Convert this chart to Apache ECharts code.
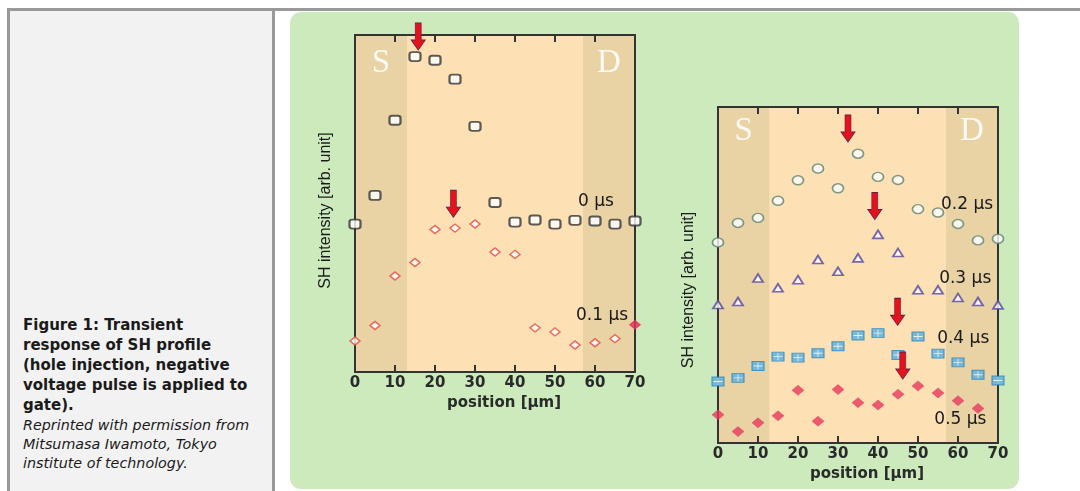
<!DOCTYPE html>
<html>
<head>
<meta charset="utf-8">
<script src="https://cdn.jsdelivr.net/npm/echarts@6/dist/echarts.min.js"></script>
<style>
  html, body { margin:0; padding:0; width:1080px; height:491px; overflow:hidden; background:#ffffff; }
  .abs { position:absolute; }
  #topline { left:7px; top:8px; width:1073px; height:3px; background:#999999; }
  #leftline { left:7px; top:8px; width:3px; height:483px; background:#999999; }
  #cell { left:10px; top:11px; width:262px; height:480px; background:#f2f2f2; }
  #divider { left:272px; top:8px; width:3px; height:483px; background:#999999; }
  #panel { left:290px; top:12px; width:729px; height:477px; background:#cdeabd; border-radius:11px; }
  #caption { left:23px; top:315px; width:245px; font-family:"DejaVu Sans", sans-serif; color:#1a1a1a; }
  #caption .b { font-weight:bold; font-size:15px; line-height:20px; white-space:nowrap; }
  #caption .i { font-style:italic; font-size:14.3px; line-height:19px; white-space:nowrap; margin-top:1px; }
  #c { left:0; top:0; width:1080px; height:491px; }
</style>
</head>
<body>
<div id="topline" class="abs"></div>
<div id="cell" class="abs"></div>
<div id="leftline" class="abs"></div>
<div id="divider" class="abs"></div>
<div id="panel" class="abs"></div>
<div id="caption" class="abs">
  <div class="b">Figure 1: Transient<br>response of SH profile<br>(hole injection, negative<br>voltage pulse is applied to<br>gate).</div>
  <div class="i">Reprinted with permission from<br>Mitsumasa Iwamoto, Tokyo<br>institute of technology.</div>
</div>
<div id="c" class="abs"></div>
<script>
// ---- data (y in arbitrary units 0..100) ----
const positions = [0, 5, 10, 15, 20, 25, 30, 35, 40, 45, 50, 55, 60, 65, 70];
const xTicks = [0, 10, 20, 30, 40, 50, 60, 70];
const sh_0us  = [43.9, 52.4, 74.7, 93.6, 92.5, 86.9, 72.9, 50.3, 44.5, 45.1, 43.9, 45.0, 44.8, 43.9, 44.8];
const sh_01us = [9.2, 13.8, 28.5, 32.5, 42.3, 42.7, 43.9, 35.6, 34.9, 13.1, 11.9, 8.0, 8.7, 9.9, 14.0];
const sh_02us = [59.7, 65.5, 67.0, 72.1, 78.2, 81.7, 75.8, 86.1, 79.2, 78.3, 69.6, 68.6, 65.2, 60.3, 60.8];
const sh_03us = [41.2, 42.1, 49.1, 46.2, 48.6, 54.6, 51.1, 55.1, 62.1, 56.7, 45.6, 45.6, 43.3, 42.1, 41.1];
const sh_04us = [18.3, 19.4, 22.9, 25.7, 25.4, 26.7, 28.8, 32.0, 32.7, 26.2, 31.7, 26.6, 24.0, 20.3, 18.6];
const sh_05us = [8.4, 3.4, 6.0, 8.1, 15.7, 6.5, 15.9, 12.0, 11.3, 14.5, 17.0, 14.9, 12.6, 10.3, null];
// source / drain regions [from, to] in µm
const regions1 = [["S", 0, 13], ["D", 57, 70]];
const regions2 = [["S", 0, 12.8], ["D", 57, 70]];
// peak arrows [x µm, y of tip]
const arrows1 = [[15.8, 95.5], [24.6, 45.9]];
const arrows2 = [[32.5, 89.6], [39.2, 66.5], [44.9, 35.0], [46.2, 19.0]];
// curve labels [text, x, y]
const curveLabels1 = [["0 µs", 60.25, 50.7], ["0.1 µs", 61.75, 16.6]];
const curveLabels2 = [["0.2 µs", 62.25, 70.9], ["0.3 µs", 61.8, 48.9], ["0.4 µs", 61.3, 31.0], ["0.5 µs", 60.6, 7.1]];
const yName = "SH intensity [arb. unit]";
const xName = "position [µm]";

// ---- build ----
const AX = '#333333';
const pts = arr => positions.map((x, i) => [x, arr[i]]).filter(p => p[1] !== null);
const arrowPath = 'path://M4,0 L10,0 L10,17 L14,17 L7,27 L0,17 L4,17 Z';

function xAxes(g) {
  const common = {
    gridIndex: g, type: 'value', min: 0, max: 70, interval: 10, z: 2,
    axisLine: { show: true, onZero: false, lineStyle: { color: AX, width: 2 } },
    axisTick: { show: true, inside: true, length: 7, lineStyle: { color: AX, width: 2 } },
    splitLine: { show: false }
  };
  return [
    Object.assign({}, common, {
      position: 'bottom',
      axisLabel: { show: true, margin: 4, fontFamily: 'DejaVu Sans', fontWeight: 'bold', fontSize: 15, color: '#2a2a2a',
                   formatter: v => xTicks.includes(v) ? String(v) : '' },
      name: xName, nameLocation: 'middle', nameGap: 17,
      nameTextStyle: { fontFamily: 'DejaVu Sans', fontWeight: 'bold', fontSize: 15, color: '#2a2a2a', padding: [0, 0, 0, 18] }
    }),
    Object.assign({}, common, { position: 'top', axisLabel: { show: false } })
  ];
}
function yAxes(g, shift) {
  const common = {
    gridIndex: g, type: 'value', min: 0, max: 100, z: 2,
    axisLine: { show: true, onZero: false, lineStyle: { color: AX, width: 2 } },
    axisTick: { show: false }, axisLabel: { show: false }, splitLine: { show: false }
  };
  return [
    Object.assign({}, common, {
      position: 'left', name: yName, nameLocation: 'middle', nameGap: 21,
      nameTextStyle: { fontFamily: 'Liberation Sans', fontSize: 16, color: '#1a1a1a', padding: [0, shift, 0, 0] }
    }),
    Object.assign({}, common, { position: 'right' })
  ];
}
function bandSeries(g, regions, dist) {
  return {
    type: 'scatter', xAxisIndex: 2 * g, yAxisIndex: 2 * g, data: [], z: 1, silent: true,
    markArea: {
      silent: true,
      itemStyle: { color: '#e9d2a3' },
      label: { show: true, position: 'insideTop', distance: dist, fontFamily: 'Liberation Serif',
               fontSize: 33, color: 'rgba(255,255,255,0.88)' },
      data: regions.map(r => [{ name: r[0], xAxis: r[1] }, { xAxis: r[2] }])
    }
  };
}
function markPts(arrows, labels) {
  return {
    data: arrows.map(a => ({
      coord: a, symbol: arrowPath, symbolSize: [14, 27], symbolOffset: [0, '-50%'],
      itemStyle: { color: '#e3121c', borderColor: '#6a1d44', borderWidth: 0.8 }, label: { show: false }
    })).concat(labels.map(l => ({
      coord: [l[1], l[2]], symbol: 'circle', symbolSize: 0,
      label: { show: true, position: 'inside', formatter: l[0], fontFamily: 'DejaVu Sans', fontSize: 17, color: '#1a1a1a' }
    }))),
    silent: true, animation: false
  };
}
function sc(name, g, data, symbol, size, style, extra) {
  return Object.assign({
    name, type: 'scatter', xAxisIndex: 2 * g, yAxisIndex: 2 * g, data, symbol, symbolSize: size,
    itemStyle: style, z: 3, clip: false
  }, extra || {});
}

const d01 = pts(sh_01us).map((p, i, arr) => i === arr.length - 1
  ? { value: p, itemStyle: { color: '#e8305a', borderColor: '#e8305a' } } : p);

const option = {
  animation: false,
  grid: [
    { left: 355, top: 35, width: 280, height: 337, show: true, backgroundColor: '#fde0b3', borderWidth: 0 },
    { left: 718, top: 107, width: 280, height: 336, show: true, backgroundColor: '#fde0b3', borderWidth: 0 }
  ],
  xAxis: xAxes(0).concat(xAxes(1)),
  yAxis: yAxes(0, 14).concat(yAxes(1, 30)),
  series: [
    bandSeries(0, regions1, 12),
    bandSeries(1, regions2, 8),
    sc('0 µs', 0, pts(sh_0us), 'roundRect', [11, 9], { color: '#ffffff', borderColor: '#333333', borderWidth: 2 },
       { markPoint: markPts([arrows1[0]], [curveLabels1[0]]) }),
    sc('0.1 µs', 0, d01, 'diamond', [10, 8], { color: '#ffffff', borderColor: '#e8473f', borderWidth: 1.5 },
       { markPoint: markPts([arrows1[1]], [curveLabels1[1]]) }),
    sc('0.2 µs', 1, pts(sh_02us), 'circle', [11, 9], { color: '#ffffff', borderColor: '#5d8470', borderWidth: 1.6 },
       { markPoint: markPts([arrows2[0]], [curveLabels2[0]]) }),
    sc('0.3 µs', 1, pts(sh_03us), 'triangle', [10, 8], { color: '#ffffff', borderColor: '#5545a0', borderWidth: 1.8 },
       { markPoint: markPts([arrows2[1]], [curveLabels2[1]]) }),
    sc('0.4 µs', 1, pts(sh_04us), 'rect', [12, 9], { color: '#5aaedc', borderColor: '#2b86c0', borderWidth: 1 },
       { markPoint: markPts([arrows2[2]], [curveLabels2[2]]) }),
    sc('0.4 µs grid', 1, pts(sh_04us), 'path://M0,3.5 L10,3.5 L10,4.5 L0,4.5 Z M4.5,0 L5.5,0 L5.5,8 L4.5,8 Z', [9, 7],
       { color: '#ffffff' }, { z: 4, silent: true }),
    sc('0.5 µs', 1, pts(sh_05us), 'diamond', [12, 10], { color: '#e8385c', borderColor: '#e23055', borderWidth: 0.5 },
       { markPoint: markPts([arrows2[3]], [curveLabels2[3]]) })
  ]
};
const chart = echarts.init(document.getElementById('c'), null, { renderer: 'canvas' });
chart.setOption(option);
</script>
</body>
</html>
